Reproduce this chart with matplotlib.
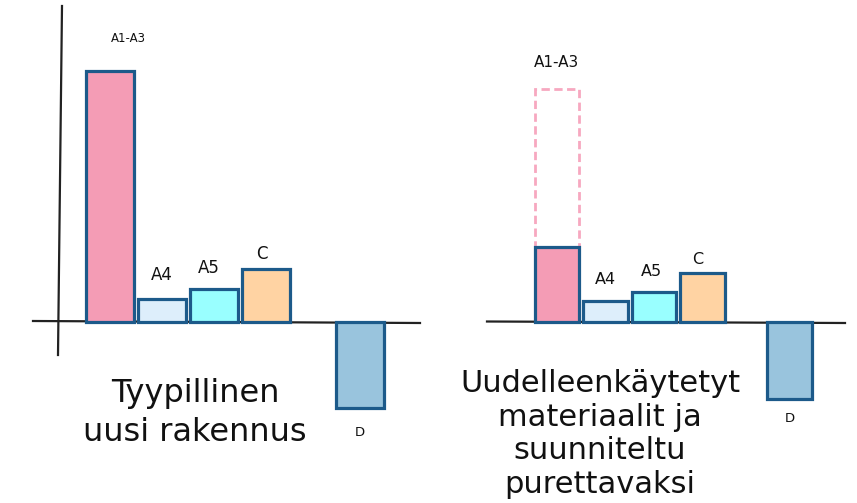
import matplotlib
matplotlib.use("Agg")
import matplotlib.pyplot as plt
import numpy as np

# ---- data ----
categories = ["A1-A3", "A4", "A5", "C", "D"]
typical_values = [251, 23, 33, 53, -86]
reused_values = [75, 21, 30, 49, -77]
reused_a1a3_reference = 233   # dashed outline: original A1-A3 level
bar_colors = ["#F49CB5", "#DDEEFB", "#99FFFF", "#FFD3A3", "#99C4DD"]
edge_color = "#1C5A8A"
titles = ["Tyypillinen\nuusi rakennus",
          "Uudelleenkäytetyt\nmateriaalit ja\nsuunniteltu\npurettavaksi"]

W, H = 857, 503
fig = plt.figure(figsize=(W / 100, H / 100), dpi=100)
fig.patch.set_facecolor("white")

positions = np.array([0, 1, 2, 3, 4.8])


def make_axes(x0_px, x1_px, origin_px, spacing_px, base_px):
    ax = fig.add_axes([x0_px / W, 0, (x1_px - x0_px) / W, 1])
    ax.set_xlim((x0_px - origin_px) / spacing_px, (x1_px - origin_px) / spacing_px)
    ax.set_ylim(-(H - base_px), base_px)
    ax.axis("off")
    ax.patch.set_alpha(0)
    return ax


# left panel
axL = make_axes(0, 430, 110, 52, 322)
# right panel
axR = make_axes(430, 857, 557, 48.5, 322)

# axis lines (left)
axL.plot([(33 - 110) / 52, (420 - 110) / 52], [1, -1], color="#222222", lw=1.6, zorder=1)
axL.plot([(62 - 110) / 52, (58 - 110) / 52], [316, -33], color="#222222", lw=1.6, zorder=1)
# axis line (right)
axR.plot([(487 - 557) / 48.5, (845 - 557) / 48.5], [0.5, -1], color="#222222", lw=1.6, zorder=1)

# bars
axL.bar(positions, typical_values, width=0.92, color=bar_colors,
        edgecolor=edge_color, linewidth=2.3, zorder=3)

axR.bar(positions[0], reused_a1a3_reference, width=0.92, facecolor="none",
        edgecolor="#F7A8C0", linewidth=2.0, linestyle=(0, (3, 1.6)), zorder=2)
axR.bar(positions, reused_values, width=0.92, color=bar_colors,
        edgecolor=edge_color, linewidth=2.3, zorder=3)

# labels left
lab_kw = dict(ha="center", va="center", color="#111111", family="DejaVu Sans")
axL.text(positions[0] + 0.35, 284, categories[0], fontsize=8.5, **lab_kw)
axL.text(positions[1], typical_values[1] + 24, categories[1], fontsize=12, **lab_kw)
axL.text(positions[2] - 0.1, typical_values[2] + 21, categories[2], fontsize=12, **lab_kw)
axL.text(positions[3] - 0.08, typical_values[3] + 15, categories[3], fontsize=12, **lab_kw)
axL.text(positions[4], typical_values[4] - 25, categories[4], fontsize=9.5, **lab_kw)

# labels right
axR.text(positions[0], reused_a1a3_reference + 27, categories[0], fontsize=11, **lab_kw)
axR.text(positions[1], reused_values[1] + 21, categories[1], fontsize=11.5, **lab_kw)
axR.text(positions[2] - 0.05, reused_values[2] + 20, categories[2], fontsize=11.5, **lab_kw)
axR.text(positions[3] - 0.1, reused_values[3] + 13, categories[3], fontsize=11.5, **lab_kw)
axR.text(positions[4], reused_values[4] - 19, categories[4], fontsize=9.5, **lab_kw)

# titles
fig.text(195 / W, 1 - 413 / H, titles[0], ha="center", va="center",
         fontsize=23, linespacing=1.3, color="#111111", family="DejaVu Sans")
fig.text(600 / W, 1 - 434 / H, titles[1], ha="center", va="center",
         fontsize=22, linespacing=1.21, color="#111111", family="DejaVu Sans")

fig.savefig("out.png", dpi=100, facecolor="white")
